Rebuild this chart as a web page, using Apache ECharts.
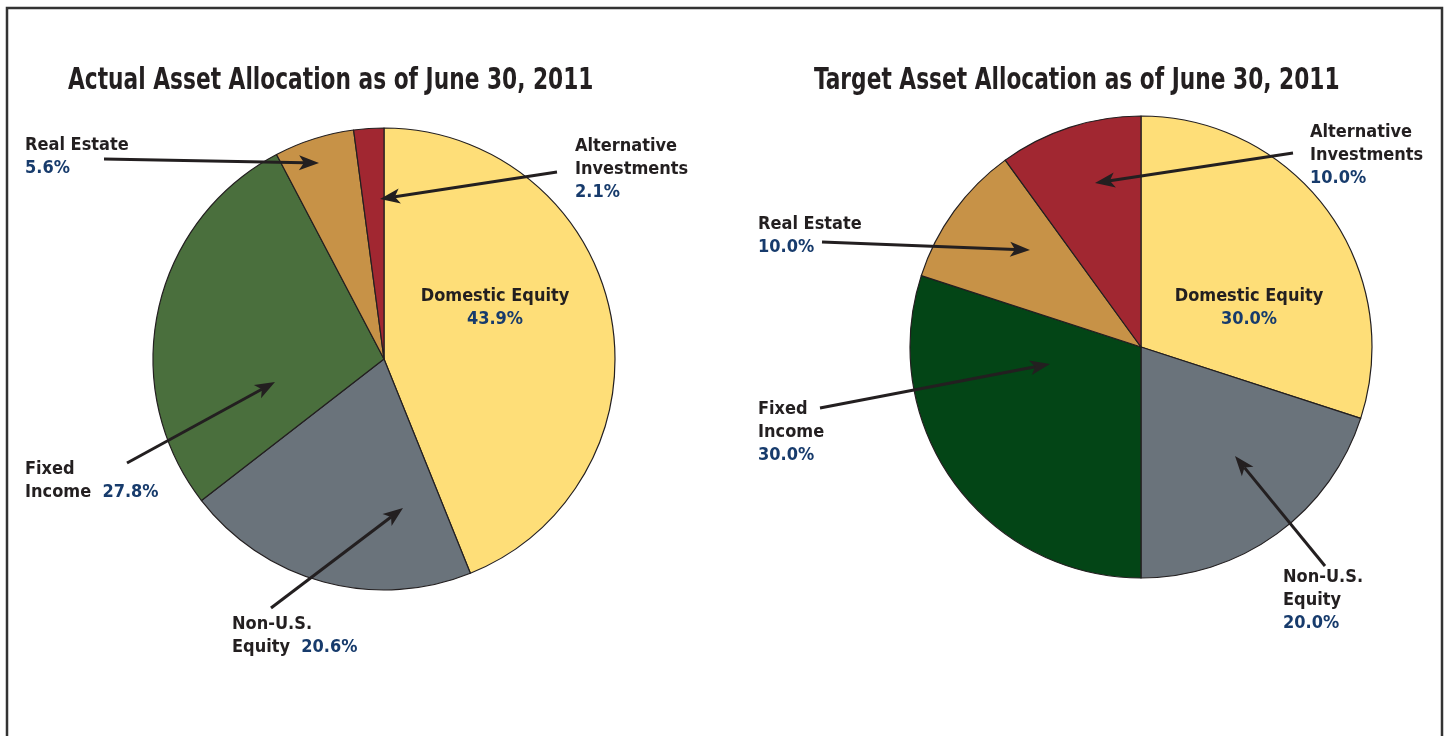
<!DOCTYPE html>
<html><head><meta charset="utf-8">
<script src="https://cdn.jsdelivr.net/npm/echarts@6/dist/echarts.min.js"></script>
<style>html,body{margin:0;padding:0;background:#fff}#c{width:1449px;height:736px}</style>
</head><body><div id="c"></div>
<script>
// ---- data ----
const categories = ['Domestic Equity', 'Non-U.S. Equity', 'Fixed Income', 'Real Estate', 'Alternative Investments'];
const actualValues = [43.9, 20.6, 27.8, 5.6, 2.1];
const targetValues = [30.0, 20.0, 30.0, 10.0, 10.0];
const chartTitles = ['Actual Asset Allocation as of June 30, 2011', 'Target Asset Allocation as of June 30, 2011'];
const actualLabelText = ['Domestic Equity', 'Non-U.S.\nEquity', 'Fixed\nIncome', 'Real Estate', 'Alternative\nInvestments'];
const targetLabelText = ['Domestic Equity', 'Non-U.S.\nEquity', 'Fixed\nIncome', 'Real Estate', 'Alternative\nInvestments'];

// ---- layout / style ----
const FONT = '"Liberation Sans Narrow", "DejaVu Sans Condensed", sans-serif';
const DARK = '#231f20', NAVY = '#173b6c';
const actualColors = ['#fede78', '#6a737b', '#4a6f3d', '#c79247', '#a12731'];
const targetColors = ['#fede78', '#6a737b', '#034516', '#c79247', '#a12731'];
const actualInline = [false, true, true, false, false];
const targetInline = [false, false, false, false, false];
const LH = 23;
// label anchor: [x, first-line centre y, align]
const labelPos = [
  [[495, 296, 'center'], [232, 624, 'left'], [25, 469, 'left'], [25, 145, 'left'], [575, 146, 'left']],
  [[1249, 296, 'center'], [1283, 577, 'left'], [758, 409, 'left'], [758, 224, 'left'], [1310, 132, 'left']]
];
// arrows [fromX, fromY, tipX, tipY]
const arrows = [
  [557, 172, 380, 199], [104, 159, 319, 163], [127, 463, 275, 382], [271, 608, 403, 508],
  [1293, 153, 1095, 183], [822, 242, 1030, 250], [820, 408, 1050, 364], [1325, 566, 1235, 456]
];
const titlePos = [[68, 66], [814, 66]];

function fmt(names, inline) {
  return p => {
    const lines = names[p.dataIndex].split('\n').map(s => '{n|' + s + '}');
    const v = '{v|' + p.value.toFixed(1) + '%}';
    if (inline[p.dataIndex]) lines[lines.length - 1] += '{n|  }' + v; else lines.push(v);
    return lines.join('\n');
  };
}
const rich = {
  n: { fontFamily: FONT, fontWeight: 'bold', fontSize: 18, color: DARK, lineHeight: LH },
  v: { fontFamily: FONT, fontWeight: 'bold', fontSize: 18, color: NAVY, lineHeight: LH }
};

function arrowGraphic(a) {
  const [x1, y1, x2, y2] = a;
  const dx = x2 - x1, dy = y2 - y1, L = Math.hypot(dx, dy), ux = dx / L, uy = dy / L;
  const hl = 20, hw = 7.5, notch = 5;
  const bx = x2 - ux * hl, by = y2 - uy * hl;
  const nx = bx + ux * notch, ny = by + uy * notch;
  return [
    { type: 'line', z: 100, silent: true, shape: { x1, y1, x2: nx, y2: ny }, style: { stroke: DARK, lineWidth: 3 } },
    { type: 'polygon', z: 100, silent: true, shape: { points: [[x2, y2], [bx - uy * hw, by + ux * hw], [nx, ny], [bx + uy * hw, by - ux * hw]] }, style: { fill: DARK } }
  ];
}

function pieSeries(idx, values, colors, names, inline, center) {
  return {
    type: 'pie', center: center, radius: 231, startAngle: 90, clockwise: true,
    silent: true, animation: false,
    itemStyle: { borderColor: '#231f20', borderWidth: 1.2 },
    label: { show: true, position: 'inside', formatter: fmt(names, inline), rich: rich },
    labelLine: { show: false },
    labelLayout: p => {
      const lp = labelPos[idx][p.dataIndex];
      return { x: lp[0], y: lp[1] - LH / 2, align: lp[2], verticalAlign: 'top', hideOverlap: false };
    },
    data: categories.map((c, i) => ({ name: c, value: values[i], itemStyle: { color: colors[i] }, label: { align: labelPos[idx][i][2] } }))
  };
}

const graphics = [
  { type: 'rect', z: 90, silent: true, shape: { x: 7, y: 8, width: 1435, height: 760 }, style: { fill: 'none', stroke: '#333', lineWidth: 2.5 } }
];
chartTitles.forEach((t, i) => graphics.push({
  type: 'text', z: 100, silent: true, x: titlePos[i][0], y: titlePos[i][1], scaleX: 0.805,
  style: { text: t, fontFamily: FONT, fontWeight: 'bold', fontSize: 30, fill: DARK, align: 'left', verticalAlign: 'top' }
}));
arrows.forEach(a => graphics.push(...arrowGraphic(a)));

const chart = echarts.init(document.getElementById('c'), null, { renderer: 'canvas' });
chart.setOption({
  backgroundColor: '#fff',
  animation: false,
  series: [
    pieSeries(0, actualValues, actualColors, actualLabelText, actualInline, [384, 359]),
    pieSeries(1, targetValues, targetColors, targetLabelText, targetInline, [1141, 347])
  ],
  graphic: graphics
});
</script></body></html>
